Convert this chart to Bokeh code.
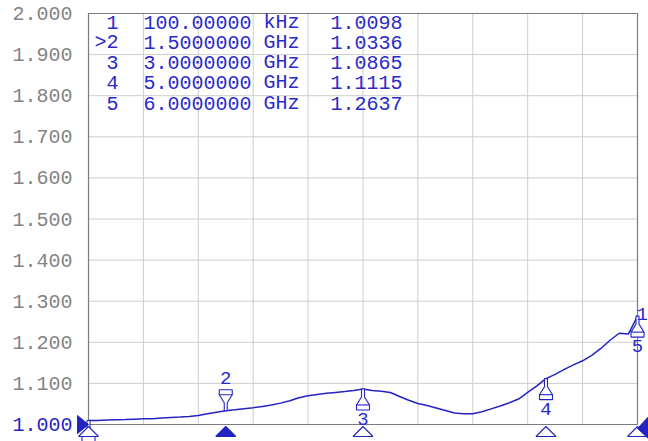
from bokeh.plotting import figure
from bokeh.embed import file_html
from bokeh.resources import INLINE
from bokeh.core.properties import value

# ---------------- data ----------------
freq_ghz = [0.0001, 0.1, 0.2, 0.3, 0.4, 0.5, 0.6, 0.7, 0.8, 0.9,
            1.0, 1.1, 1.2, 1.3, 1.4, 1.5, 1.6, 1.7, 1.8, 1.9,
            2.0, 2.1, 2.2, 2.3, 2.4, 2.5, 2.6, 2.7, 2.8, 2.9,
            3.0, 3.1, 3.2, 3.3, 3.4, 3.5, 3.6, 3.7, 3.8, 3.9,
            4.0, 4.1, 4.2, 4.3, 4.4, 4.5, 4.6, 4.7, 4.8, 4.9,
            5.0, 5.1, 5.2, 5.3, 5.4, 5.5, 5.6, 5.7, 5.8, 5.9, 6.0]
swr = [1.0098, 1.0100, 1.0110, 1.0115, 1.0120, 1.0130, 1.0140, 1.0140, 1.0160, 1.0170,
       1.0180, 1.0195, 1.0220, 1.0260, 1.0300, 1.0336, 1.0360, 1.0385, 1.0410, 1.0440,
       1.0475, 1.0520, 1.0580, 1.0650, 1.0700, 1.0730, 1.0760, 1.0780, 1.0800, 1.0825,
       1.0865, 1.0830, 1.0810, 1.0780, 1.0680, 1.0590, 1.0510, 1.0460, 1.0400, 1.0340,
       1.0280, 1.0260, 1.0260, 1.0310, 1.0380, 1.0450, 1.0530, 1.0620, 1.0780, 1.0940,
       1.1115, 1.1220, 1.1340, 1.1450, 1.1550, 1.1680, 1.1850, 1.2050, 1.2220, 1.2200, 1.2637]

marker_ids = ["1", ">2", "3", "4", "5"]
marker_freq = [0.0001, 1.5, 3.0, 5.0, 6.0]
marker_swr = [1.0098, 1.0336, 1.0865, 1.1115, 1.2637]
marker_above = [False, True, False, False, False]
active_marker = 1

y_ticks = [1.0, 1.1, 1.2, 1.3, 1.4, 1.5, 1.6, 1.7, 1.8, 1.9, 2.0]
y_tick_labels = ["1.000", "1.100", "1.200", "1.300", "1.400", "1.500",
                 "1.600", "1.700", "1.800", "1.900", "2.000"]
ref_level = 1.0
f_start, f_stop = 0.0001, 6.0
y_bottom, y_top = 1.0, 2.0
n_xdiv = 10

# ---------------- styling / layout ----------------
BLUE = "#2323c3"
TEXT_BLUE = "#2a2acb"
GRID = "#cdcdcd"
BORDER = "#7c7c7c"
GRAY = "#838383"
FONT = "Liberation Mono"

PXG = 549 / (f_stop - f_start)   # px per GHz
PXU = 411 / (y_top - y_bottom)   # px per SWR unit


def px2x(px):
    return f_start + (px - 88) / PXG


def py2y(py):
    return y_bottom + (424 - py) / PXU


p = figure(width=648, height=441, output_backend="svg", toolbar_location=None,
           x_range=(px2x(0), px2x(648)), y_range=(py2y(441), py2y(0)),
           x_axis_location=None, y_axis_location=None, min_border_left=0,
           min_border_right=0, min_border_top=0, min_border_bottom=0)
p.outline_line_color = None
p.grid.visible = False
p.background_fill_color = "white"
p.border_fill_color = "white"

# y tick labels (reference level label in blue)
tick_colors = [BLUE if t == ref_level else GRAY for t in y_ticks]
p.text(x=[px2x(72)] * len(y_ticks), y=y_ticks, text=y_tick_labels,
       text_color=tick_colors, text_align="right", text_baseline="middle",
       text_font=value(FONT), text_font_size="20px")

# grid
xdiv = [f_start + i * (f_stop - f_start) / n_xdiv for i in range(1, n_xdiv)]
p.segment(x0=xdiv, y0=[y_bottom] * len(xdiv), x1=xdiv, y1=[y_top] * len(xdiv),
          line_color=GRID, line_width=1)
hy = y_ticks[1:-1]
p.segment(x0=[f_start] * len(hy), y0=hy, x1=[f_stop] * len(hy), y1=hy,
          line_color=GRID, line_width=1)
# border
p.line(x=[f_start, f_stop, f_stop, f_start, f_start],
       y=[y_bottom, y_bottom, y_top, y_top, y_bottom], line_color=BORDER, line_width=1.2)

# marker table
row_py = [21.5, 41.5, 62, 82, 102.5]
row_y = [py2y(v) for v in row_py]
freq_txt, unit_txt = [], []
for f in marker_freq:
    if f < 0.001:
        freq_txt.append(f"{f * 1e6:.5f}")
        unit_txt.append("kHz")
    else:
        freq_txt.append(f"{f:.7f}")
        unit_txt.append("GHz")
val_txt = [f"{v:.4f}" for v in marker_swr]
tkw = dict(text_font=value(FONT), text_font_size="20px", text_color=TEXT_BLUE,
           text_baseline="middle")
p.text(x=[px2x(118)] * 5, y=row_y, text=marker_ids, text_align="right", **tkw)
p.text(x=[px2x(143)] * 5, y=row_y, text=freq_txt, text_align="left", **tkw)
p.text(x=[px2x(263)] * 5, y=row_y, text=unit_txt, text_align="left", **tkw)
p.text(x=[px2x(402)] * 5, y=row_y, text=val_txt, text_align="right", **tkw)

# trace
p.line(x=freq_ghz, y=swr, line_color=BLUE, line_width=1.5)

# marker symbols on the trace
shape = [(-1.5, 0), (-1.5, 8), (-6.5, 16), (-6.5, 21), (6.5, 21), (6.5, 16), (1.5, 8), (1.5, 0)]
sx, sy, lx, ly = [], [], [], []
for f, v, up in zip(marker_freq, marker_swr, marker_above):
    d = -1 if up else 1
    sx.append([f + dx / PXG for dx, dy in shape])
    sy.append([v - d * dy / PXU for dx, dy in shape])
    lx.append([f - 6.5 / PXG, f + 6.5 / PXG])
    ly.append([v - d * 16 / PXU, v - d * 16 / PXU])
p.patches(xs=sx, ys=sy, fill_color="white", line_color=BLUE, line_width=1.1)
p.multi_line(xs=lx, ys=ly, line_color=BLUE, line_width=1.1)

lab_x, lab_y, lab_t = [], [], []
for mid, f, v, up in zip(marker_ids, marker_freq, marker_swr, marker_above):
    if f < 0.01:
        continue
    lab_x.append(f)
    lab_y.append(v + (33 if up else -30) / PXU)
    lab_t.append(mid.replace(">", ""))
p.text(x=lab_x, y=lab_y, text=lab_t, text_align="center", text_baseline="middle",
       text_font=value(FONT), text_font_size="19px", text_color=TEXT_BLUE)
# label of marker 1 shown at the right end of the trace
p.text(x=[marker_freq[-1] - 1 / PXG], y=[marker_swr[-1] + 2 / PXU], text=[marker_ids[0]],
       text_align="left", text_baseline="middle", text_font=value(FONT),
       text_font_size="19px", text_color=TEXT_BLUE)

# marker position triangles below the graticule
txs, tys, fills = [], [], []
for i, f in enumerate(marker_freq):
    txs.append([f - 10 / PXG, f + 10 / PXG, f])
    tys.append([py2y(436), py2y(436), py2y(426)])
    fills.append(BLUE if i == active_marker else "white")
p.patches(xs=txs, ys=tys, fill_color=fills, line_color=BLUE, line_width=1.1)

# reference level arrows
p.patch(x=[px2x(77), px2x(77), f_start], y=[py2y(415), py2y(433), ref_level],
        fill_color=BLUE, line_color=BLUE)
p.patch(x=[f_stop, px2x(650), px2x(650)], y=[py2y(428), py2y(414), py2y(440)],
        fill_color=BLUE, line_color=BLUE)

open("out.html", "w").write(file_html(p, INLINE))
